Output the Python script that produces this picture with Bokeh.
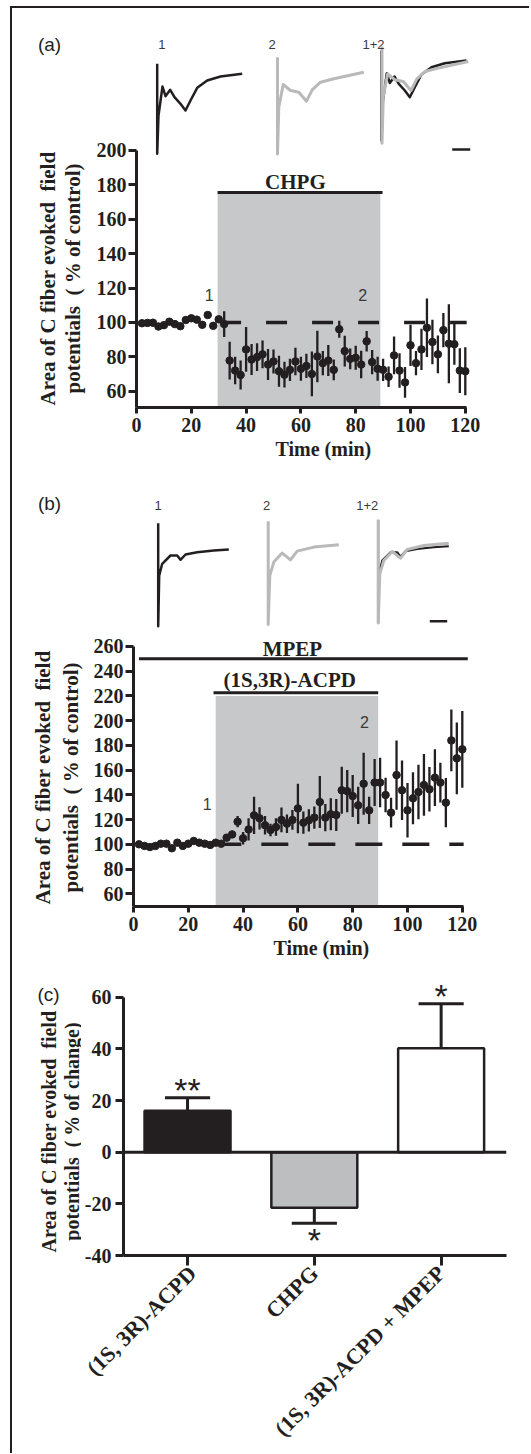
import math
from bokeh.plotting import figure
from bokeh.layouts import column, row
from bokeh.models import Range1d, FixedTicker, Span, BoxAnnotation, Title
from bokeh.embed import file_html
from bokeh.resources import INLINE
from bokeh.core.properties import value

INK = "#231f20"
SHADE = "#c7c8ca"
BAR_GRAY = "#bcbec0"
TRACE_GRAY = "#b9b9b9"
NUM_INK = "#3a3a3a"
SERIF = "Liberation Serif"
SANS = "Liberation Sans"

# ------------------------------------------------------------------ data
time_min = [2, 4, 6, 8, 10, 12, 14, 16, 18, 20, 22, 24, 26, 28, 30,
            32, 34, 36, 38, 40, 42, 44, 46, 48, 50, 52, 54, 56, 58, 60,
            62, 64, 66, 68, 70, 72, 74, 76, 78, 80, 82, 84, 86, 88, 90,
            92, 94, 96, 98, 100, 102, 104, 106, 108, 110, 112, 114, 116, 118, 120]

# (a) CHPG
chpg_pct = [99.5, 99.7, 99.8, 97.6, 98.4, 100.4, 99.0, 97.8, 101.4, 102.4,
            101.6, 98.6, 104.3, 98.0, 101.8, 99.0, 77.8, 72.0, 69.4, 84.3,
            78.4, 79.8, 81.4, 75.5, 77.3, 71.6, 69.6, 72.4, 77.3, 73.0,
            74.7, 70.0, 80.2, 76.3, 77.8, 72.4, 96.0, 83.3, 78.8, 79.4,
            75.5, 89.0, 76.9, 73.0, 72.4, 68.4, 80.8, 72.0, 65.1, 86.7,
            76.3, 84.3, 96.9, 88.6, 81.4, 95.5, 87.6, 87.3, 72.0, 71.6]
chpg_sem = [0.8, 0.8, 0.8, 0.8, 0.8, 0.8, 0.8, 0.8, 0.8, 0.8,
            0.8, 0.8, 0.8, 0.8, 0.8, 7.5, 11.0, 8.0, 8.5, 13.0,
            9.0, 8.0, 8.0, 9.0, 7.0, 9.0, 7.5, 6.5, 8.0, 7.0,
            7.0, 13.0, 15.0, 7.0, 9.0, 6.0, 5.0, 9.0, 6.0, 7.0,
            8.0, 6.0, 7.0, 7.0, 6.5, 6.0, 11.0, 10.0, 9.0, 12.0,
            7.0, 12.0, 17.0, 13.0, 11.0, 10.0, 23.0, 12.0, 13.0, 14.0]

# (b) (1S,3R)-ACPD in the presence of MPEP
acpd_mpep_pct = [100.0, 98.7, 97.8, 98.7, 100.5, 100.5, 96.8, 101.3, 98.7, 100.5,
                 102.7, 101.3, 100.5, 99.5, 101.3, 100.5, 105.4, 108.0, 118.3, 104.9,
                 112.0, 123.4, 121.0, 115.4, 111.6, 114.0, 119.7, 116.7, 119.7, 129.0,
                 117.5, 119.4, 121.6, 134.2, 121.6, 124.3, 123.7, 143.7, 143.0, 139.0,
                 131.5, 149.0, 127.5, 149.9, 149.9, 139.9, 125.6, 156.0, 143.7, 127.5,
                 137.2, 142.3, 148.0, 144.5, 153.9, 149.9, 133.7, 184.0, 169.5, 176.8]
acpd_mpep_sem = [1.0, 1.0, 1.0, 1.0, 1.0, 1.0, 1.0, 1.0, 1.0, 1.0,
                 1.0, 1.0, 1.0, 1.0, 1.0, 1.0, 2.0, 3.0, 4.5, 5.0,
                 9.0, 15.0, 9.0, 7.5, 5.0, 7.0, 10.0, 7.5, 8.0, 20.0,
                 9.0, 9.0, 9.0, 21.0, 11.0, 13.0, 13.0, 19.0, 17.0, 17.0,
                 15.0, 25.0, 11.0, 19.0, 20.0, 14.0, 12.0, 28.0, 24.0, 22.0,
                 21.0, 22.0, 25.0, 18.0, 23.0, 16.0, 20.0, 25.0, 29.0, 31.0]

chpg_window = [29.6, 89.0]          # CHPG application (min)
chpg_bar_level = 175.5
acpd_window = [30.0, 89.3]          # (1S,3R)-ACPD application (min)
acpd_bar_level = 222.5
mpep_window = [2.0, 122.0]          # MPEP application (min)
mpep_bar_level = 250.0

# example field-potential traces (relative units, baseline = 0)
trace_a1_t = [0, 0, 1.3, 5.3, 8.3, 13.0, 17.3, 23.3, 28.3, 33.3, 40.0, 50.0, 63.3, 85.0]
trace_a1_v = [10, -80, -41.7, -12.7, -22.4, -16.0, -23.4, -30.0, -36.7, -26.7, -14.0, -6.7, -2.7, 0]
trace_a2_t = [0, 0, 1.3, 5.7, 13.0, 21.3, 29.0, 34.7, 43.0, 56.3, 86.3]
trace_a2_v = [15, -81.7, -35.0, -12.3, -18.3, -20.0, -29.0, -17.6, -10.0, -6.6, 0]
trace_b1_t = [0, 0, 1.0, 4.0, 12.3, 19.0, 22.3, 27.3, 39.0, 55.6, 70.6]
trace_b1_v = [26.3, -76.7, -26.0, -14.3, -6.0, -6.0, -10.3, -5.0, -2.7, -1.0, 0]
trace_b2_t = [0, 0, 1.6, 5.6, 14.0, 22.3, 29.0, 45.6, 70.6]
trace_b2_v = [23.6, -79.7, -30.7, -17.3, -8.3, -15.0, -6.3, -2.3, 0]

# (c) summary
bar_groups = ["(1S, 3R)-ACPD", "CHPG", "(1S, 3R)-ACPD + MPEP"]
bar_change = [16.0, -21.5, 40.2]
bar_sem = [5.1, 6.0, 17.3]
bar_sig = ["**", "*", "*"]
bar_fill = [INK, BAR_GRAY, "white"]

Y_LINE1 = "Area of C fiber evoked\u00a0 field"
Y_LINE2_CTRL = "potentials\u00a0 ( % of control)"
Y_LINE2_CHG = "potentials\u00a0 ( % of change)"


# ------------------------------------------------------------------ helpers
def style_axis(ax, tick_out, label_standoff, label_size="20px"):
    ax.axis_line_width = 3
    ax.axis_line_color = INK
    ax.major_tick_line_width = 3
    ax.major_tick_line_color = INK
    ax.major_tick_in = 0
    ax.major_tick_out = tick_out
    ax.minor_tick_line_color = None
    ax.major_label_standoff = label_standoff
    ax.major_label_text_font = SERIF
    ax.major_label_text_font_style = "bold"
    ax.major_label_text_font_size = label_size
    ax.major_label_text_color = INK


def clean(p):
    p.outline_line_color = None
    p.background_fill_color = "white"
    p.border_fill_color = "white"


def main_fig(width, height, xr, yr, left, top, fw, fh):
    p = figure(width=width, height=height, x_range=xr, y_range=yr,
               min_border_left=left, min_border_right=width - left - fw,
               min_border_top=top, min_border_bottom=height - top - fh,
               toolbar_location=None, output_backend="svg", title=None)
    clean(p)
    p.xgrid.grid_line_color = None
    p.ygrid.grid_line_color = None
    p.extra_x_ranges = {"px": Range1d(0, fw)}
    p.extra_y_ranges = {"px": Range1d(0, fh)}
    return p


def label_fig(width, height, top, fh, letter, letter_xy, line1, line2, xs, yc, size):
    # narrow strip (same vertical frame as the plot beside it) holding the
    # panel letter and the two-line y title; y measured in px from the figure top
    p = figure(width=width, height=height, x_range=Range1d(0, width), y_range=Range1d(top + fh, top),
               min_border_left=0, min_border_right=0, min_border_top=top,
               min_border_bottom=height - top - fh, x_axis_location=None, y_axis_location=None,
               toolbar_location=None, output_backend="svg", title=None)
    clean(p)
    p.grid.visible = False
    p.text(x=[letter_xy[0]], y=[letter_xy[1]], text=[letter], text_font=value(SANS),
           text_font_size="19px", text_color=INK, text_align="center", text_baseline="middle")
    p.text(x=xs, y=[yc, yc], text=[line1, line2], angle=math.pi / 2,
           text_font=value(SERIF), text_font_style="bold", text_font_size=size,
           text_color=INK, text_align="center", text_baseline="middle")
    return p


def draw_trace(p, t, v, ox, oy, color, lw):
    p.line(x=[ox + a for a in t], y=[oy + b for b in v], x_range_name="px", y_range_name="px",
           line_color=color, line_width=lw, line_join="round")


def trace_numbers(p, xs, y):
    p.text(x=xs, y=[y] * 3, text=["1", "2", "1+2"], x_range_name="px", y_range_name="px",
           text_font=value(SANS), text_font_size="13px", text_color=NUM_INK,
           text_align="center", text_baseline="middle")


def time_series(p, t, m, e, dash_start, dash):
    p.segment(x0=[dash_start], y0=[100], x1=[120.5], y1=[100],
              line_color=INK, line_width=3.5, line_dash=dash)
    p.segment(x0=t, y0=[a - b for a, b in zip(m, e)], x1=t, y1=[a + b for a, b in zip(m, e)],
              line_color=INK, line_width=2.3)
    p.scatter(x=t, y=m, size=7.5, fill_color=INK, line_color=INK)


def time_axes(p, yticks, ybounds, title_offset):
    p.xaxis.ticker = FixedTicker(ticks=[0, 20, 40, 60, 80, 100, 120])
    p.xaxis.bounds = (0, 120.5)
    p.yaxis.ticker = FixedTicker(ticks=yticks)
    p.yaxis.bounds = ybounds
    style_axis(p.xaxis[0], 6, 4)
    style_axis(p.yaxis[0], 8, 2)
    p.add_layout(Title(text="Time (min)", align="left", offset=title_offset, standoff=2,
                       text_font=SERIF, text_font_style="bold", text_font_size="20px",
                       text_color=INK), "below")


# ------------------------------------------------------------------ panel (a)
A_H, A_LW = 467, 80
A_W = 505 - A_LW
A_L, A_T, A_FW, A_FH = 44, 2, 334, 397
A_XS, A_YS = 2.74, 1.7193
pA = main_fig(A_W, A_H, Range1d(0, A_FW / A_XS), Range1d(50.5, 50.5 + A_FH / A_YS),
              A_L, A_T, A_FW, A_FH)
pA.add_layout(BoxAnnotation(left=chpg_window[0], right=chpg_window[1], top=chpg_bar_level,
                            fill_color=SHADE, fill_alpha=1.0, line_color=None, level="underlay"))
pA.segment(x0=[chpg_window[0]], y0=[chpg_bar_level], x1=[chpg_window[1] + 0.8], y1=[chpg_bar_level],
           line_color=INK, line_width=3)
pA.text(x=[58], y=[181.6], text=["CHPG"], text_font=value(SERIF), text_font_style="bold",
        text_font_size="21px", text_color=INK, text_align="center", text_baseline="middle")
time_series(pA, time_min, chpg_pct, chpg_sem, 30.5, "21 25")
pA.text(x=[26.5, 82.6], y=[116.2, 116.2], text=["1", "2"], text_font=value(SANS),
        text_font_size="16px", text_color=NUM_INK, text_align="center", text_baseline="middle")
draw_trace(pA, trace_a1_t, trace_a1_v, 20.7, 333.7, INK, 2.5)
draw_trace(pA, trace_a2_t, trace_a2_v, 141.0, 335.3, TRACE_GRAY, 3)
draw_trace(pA, trace_a1_t, trace_a1_v, 245.0, 347.0, INK, 2.5)
draw_trace(pA, trace_a2_t, trace_a2_v, 245.5, 346.0, TRACE_GRAY, 3)
pA.segment(x0=[315.7], y0=[258], x1=[334], y1=[258], x_range_name="px", y_range_name="px",
           line_color=INK, line_width=2.5)
trace_numbers(pA, [25.3, 135.7, 237.0], 363)
time_axes(pA, [60, 80, 100, 120, 140, 160, 180, 200], (50.5, 200), 139)
lA = label_fig(A_LW, A_H, A_T, A_FH, "(a)", (37, 35.5), Y_LINE1, Y_LINE2_CTRL,
               [35.5, 60.5], 270, "21px")

# ------------------------------------------------------------------ panel (b)
B_H, B_LW = 495, 78
B_W = 505 - B_LW
B_L, B_T, B_FW, B_FH = 43, 0, 335, 431
B_XS, B_YS = 2.74, 1.2365
pB = main_fig(B_W, B_H, Range1d(0, B_FW / B_XS), Range1d(49.7, 49.7 + B_FH / B_YS),
              B_L, B_T, B_FW, B_FH)
pB.add_layout(BoxAnnotation(left=acpd_window[0], right=acpd_window[1], top=acpd_bar_level - 2.5,
                            fill_color=SHADE, fill_alpha=1.0, line_color=None, level="underlay"))
pB.segment(x0=[acpd_window[0] - 0.8, mpep_window[0]], y0=[acpd_bar_level, mpep_bar_level],
           x1=[acpd_window[1], mpep_window[1]], y1=[acpd_bar_level, mpep_bar_level],
           line_color=INK, line_width=3)
pB.text(x=[58, 57], y=[258.1, 233.1], text=["MPEP", "(1S,3R)-ACPD"], text_font=value(SERIF),
        text_font_style="bold", text_font_size="21px", text_color=INK,
        text_align="center", text_baseline="middle")
time_series(pB, time_min, acpd_mpep_pct, acpd_mpep_sem, 29.5, "27 20")
pB.text(x=[26.9, 84.3], y=[132.8, 198.8], text=["1", "2"], text_font=value(SANS),
        text_font_size="16px", text_color=NUM_INK, text_align="center", text_baseline="middle")
draw_trace(pB, trace_b1_t, trace_b1_v, 24.7, 357.0, INK, 2.5)
draw_trace(pB, trace_b2_t, trace_b2_v, 134.7, 361.7, TRACE_GRAY, 3)
draw_trace(pB, trace_b1_t, trace_b1_v, 244.7, 360.3, INK, 2.0)
draw_trace(pB, trace_b2_t, trace_b2_v, 244.7, 363.3, TRACE_GRAY, 3)
pB.segment(x0=[296.3], y0=[285.3], x1=[313.7], y1=[285.3], x_range_name="px", y_range_name="px",
           line_color=INK, line_width=2.5)
trace_numbers(pB, [24.7, 133.0, 233.7], 401)
time_axes(pB, [60, 80, 100, 120, 140, 160, 180, 200, 220, 240, 260], (49.7, 260), 140)
lB = label_fig(B_LW, B_H, B_T, B_FH, "(b)", (37, 28), Y_LINE1, Y_LINE2_CTRL,
               [30.5, 58.5], 302, "21px")

# ------------------------------------------------------------------ panel (c)
C_H, C_LW = 483, 69
C_W = 505 - C_LW
C_L, C_T, C_FW, C_FH = 42, 0, 383, 285
C_XS, C_YS = 126.8, 2.583
bar_x = [i + 1 for i in range(len(bar_groups))]
pC = main_fig(C_W, C_H, Range1d(0.495, 0.495 + C_FW / C_XS), Range1d(-40, -40 + C_FH / C_YS),
              C_L, C_T, C_FW, C_FH)
pC.vbar(x=bar_x, top=bar_change, bottom=0, width=0.678, fill_color=bar_fill,
        line_color=INK, line_width=2.5)
tips = [m + (e if m > 0 else -e) for m, e in zip(bar_change, bar_sem)]
pC.segment(x0=bar_x, y0=bar_change, x1=bar_x, y1=tips, line_color=INK, line_width=3)
pC.segment(x0=[x - 0.178 for x in bar_x], y0=tips, x1=[x + 0.178 for x in bar_x], y1=tips,
           line_color=INK, line_width=3)
pC.text(x=bar_x, y=tips, text=bar_sig, y_offset=[-8 if m > 0 else 17 for m in bar_change],
        text_font=value(SANS), text_font_size="34px", text_color=INK,
        text_align="center", text_baseline="middle")
pC.add_layout(Span(location=0, dimension="width", line_color=INK, line_width=3))
pC.xaxis.ticker = FixedTicker(ticks=bar_x)
pC.xaxis.major_label_overrides = {x: g for x, g in zip(bar_x, bar_groups)}
pC.xaxis.major_label_orientation = math.pi / 4
pC.yaxis.ticker = FixedTicker(ticks=[-40, -20, 0, 20, 40, 60])
pC.yaxis.major_label_overrides = {-40: "-40", -20: "-20"}
pC.yaxis.bounds = (-40, 60)
style_axis(pC.xaxis[0], 10, 4, label_size="22px")
style_axis(pC.yaxis[0], 8, 4)
lC = label_fig(C_LW, C_H, C_T, C_FH, "(c)", (36, 24), Y_LINE1, Y_LINE2_CHG,
               [36, 59], 161, "20px")

layout = column(row(lA, pA), row(lB, pB), row(lC, pC),
                styles={"border-left": "2px solid " + INK,
                        "border-top": "2px solid " + INK,
                        "margin-left": "10px",
                        "margin-top": "6px",
                        "padding-right": "12px"})

open("out.html", "w").write(file_html(layout, INLINE))
